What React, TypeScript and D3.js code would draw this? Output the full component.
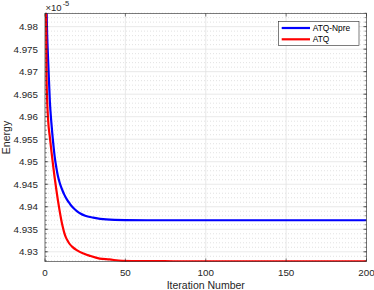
import * as d3 from 'd3';

// iteration numbers and energy values (in units of 1e-5)
const npreIter = [0, 1, 2, 3, 4, 5, 6, 7, 8, 9, 10, 11, 12, 13, 14, 15, 16, 18, 20, 22, 25, 30, 38, 50, 70, 100, 130, 160, 200];
const npreEnergy = [5.02, 4.984, 4.972, 4.9635, 4.9585, 4.9545, 4.9512, 4.9488, 4.9469, 4.9455, 4.9444, 4.9435, 4.9427, 4.942, 4.9414, 4.9409, 4.9404, 4.9396, 4.939, 4.9385, 4.938, 4.9376, 4.9372, 4.93705, 4.937, 4.937, 4.937, 4.937, 4.937];

const atqIter = [0, 1, 2, 3, 4, 5, 6, 7, 8, 9, 10, 11, 12, 13, 14, 15, 17, 20, 24, 28, 34, 40, 48, 60, 80, 100, 130, 160, 200];
const atqEnergy = [5.02, 4.968, 4.959, 4.9555, 4.9523, 4.9493, 4.9465, 4.9439, 4.9415, 4.9393, 4.9373, 4.9356, 4.9342, 4.9332, 4.9325, 4.9319, 4.9311, 4.9303, 4.9296, 4.9291, 4.9285, 4.9283, 4.928, 4.92795, 4.9279, 4.9279, 4.9279, 4.9279, 4.9279];

const xTicks = [0, 50, 100, 150, 200];
const yTicks = [4.93, 4.935, 4.94, 4.945, 4.95, 4.955, 4.96, 4.965, 4.97, 4.975, 4.98];

const series = [
  { name: 'ATQ-Npre', color: '#0000ff', iter: npreIter, energy: npreEnergy },
  { name: 'ATQ', color: '#ff0000', iter: atqIter, energy: atqEnergy },
];

const W = 374;
const H = 290;
const left = 45, right = 366.5, top = 13.3, bottom = 261.7;
const axisColor = '#262626';
const font = '"Liberation Sans", Arial, sans-serif';

export default function App() {
  const x = d3.scaleLinear().domain([0, 200]).range([left, right]);
  const y = d3.scaleLinear().domain([4.9278, 4.98296]).range([bottom, top]);

  const minorY = d3.range(4.928, 4.9835, 0.001).map(v => +v.toFixed(3));

  const line = d3.line<[number, number]>()
    .x(d => x(d[0]))
    .y(d => y(d[1]))
    .curve(d3.curveMonotoneX);

  return (
    <svg width={W} height={H} style={{ position: 'absolute', left: 0, top: 0, fontFamily: font }}>
      <defs>
        <clipPath id="plot">
          <rect x={left} y={top} width={right - left} height={bottom - top} />
        </clipPath>
      </defs>
      <rect x={left} y={top} width={right - left} height={bottom - top} fill="#fff" />

      {/* minor grid */}
      {minorY.filter(v => !yTicks.some(t => Math.abs(t - v) < 1e-6)).map(v => (
        <line key={'mg' + v} x1={left} x2={right} y1={y(v)} y2={y(v)}
          stroke="#cfcfcf" strokeWidth={0.6} strokeDasharray="1,2" />
      ))}
      {/* major grid */}
      {yTicks.map(v => (
        <line key={'gy' + v} x1={left} x2={right} y1={y(v)} y2={y(v)} stroke="#e3e3e3" strokeWidth={0.8} />
      ))}
      {xTicks.map(v => (
        <line key={'gx' + v} x1={x(v)} x2={x(v)} y1={top} y2={bottom} stroke="#e3e3e3" strokeWidth={0.8} />
      ))}

      {/* curves */}
      <g clipPath="url(#plot)">
        {series.map(s => (
          <path key={s.name}
            d={line(s.iter.map((it, i) => [it, s.energy[i]] as [number, number])) || ''}
            fill="none" stroke={s.color} strokeWidth={2.2} strokeLinejoin="round" />
        ))}
      </g>

      {/* axes box */}
      <rect x={left} y={top} width={right - left} height={bottom - top} fill="none" stroke={axisColor} strokeWidth={0.6} />

      {/* ticks */}
      {minorY.map(v => (
        <g key={'mt' + v}>
          <line x1={left} x2={left + 2} y1={y(v)} y2={y(v)} stroke={axisColor} strokeWidth={0.5} />
          <line x1={right} x2={right - 2} y1={y(v)} y2={y(v)} stroke={axisColor} strokeWidth={0.5} />
        </g>
      ))}
      {yTicks.map(v => (
        <g key={'yt' + v}>
          <line x1={left} x2={left + 3.2} y1={y(v)} y2={y(v)} stroke={axisColor} strokeWidth={0.6} />
          <line x1={right} x2={right - 3.2} y1={y(v)} y2={y(v)} stroke={axisColor} strokeWidth={0.6} />
          <text x={left - 7} y={y(v)} dy="0.35em" textAnchor="end" fontSize={9.8} fill={axisColor}>{v}</text>
        </g>
      ))}
      {xTicks.map(v => (
        <g key={'xt' + v}>
          <line x1={x(v)} x2={x(v)} y1={bottom} y2={bottom - 3.2} stroke={axisColor} strokeWidth={0.6} />
          <line x1={x(v)} x2={x(v)} y1={top} y2={top + 3.2} stroke={axisColor} strokeWidth={0.6} />
          <text x={x(v)} y={276} textAnchor="middle" fontSize={9.8} fill={axisColor}>{v}</text>
        </g>
      ))}

      {/* exponent */}
      <text x={left + 0.5} y={10.5} fontSize={9.5} fill={axisColor}>
        ×10<tspan dx={1} dy={-5} fontSize={7.5}>-5</tspan>
      </text>

      {/* axis labels */}
      <text x={(left + right) / 2} y={288.5} textAnchor="middle" fontSize={10.5} fill={axisColor}>Iteration Number</text>
      <text transform={`translate(9.5,${(top + bottom) / 2}) rotate(-90)`} textAnchor="middle" fontSize={10.5} fill={axisColor}>Energy</text>

      {/* legend */}
      <rect x={278.3} y={21.3} width={80.7} height={24.4} fill="#fff" stroke={axisColor} strokeWidth={0.6} />
      {series.map((s, i) => (
        <g key={'lg' + s.name} transform={`translate(0,${28 + i * 11.3})`}>
          <line x1={281.7} x2={310} y1={0} y2={0} stroke={s.color} strokeWidth={2.2} />
          <text x={312.7} y={0} dy="0.35em" fontSize={8.4} fill="#000">{s.name}</text>
        </g>
      ))}
    </svg>
  );
}
